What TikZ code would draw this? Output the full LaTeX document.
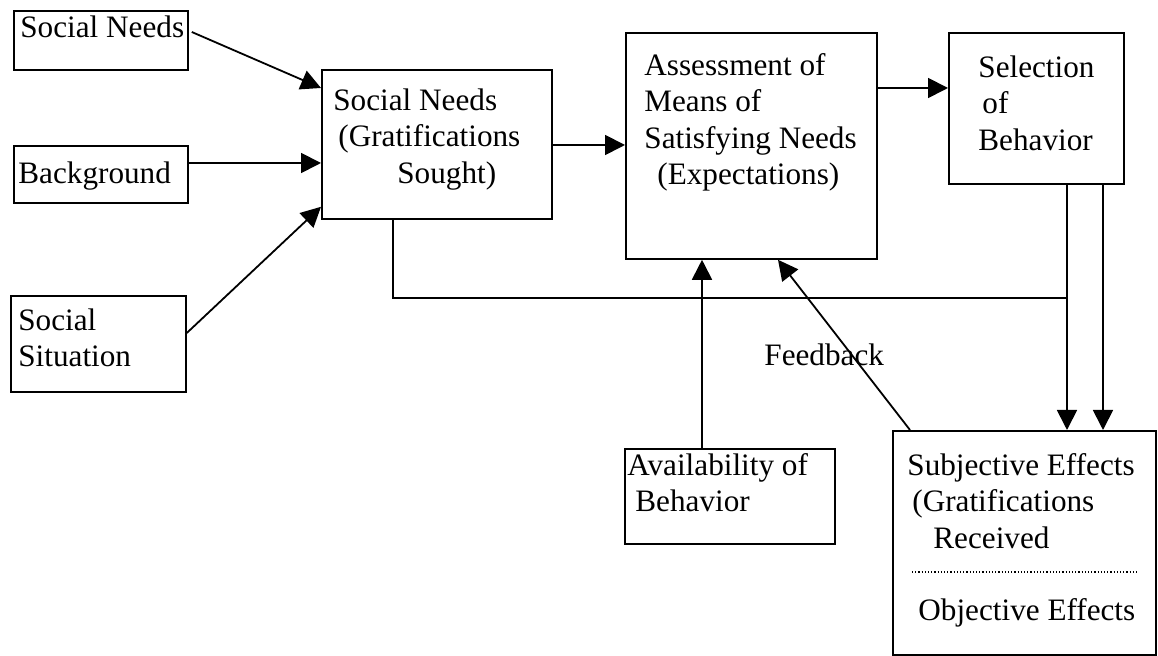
\documentclass[tikz,border=0pt]{standalone}
\usepackage{fontspec}
\setmainfont{Liberation Serif}
\usetikzlibrary{arrows.meta,calc}
\tikzset{
  gs/box/.style={draw, line width=.9pt, inner sep=0pt, anchor=north west},
  gs/text/.style={inner sep=0pt, anchor=north west, align=left,
    font=\fontsize{15.6}{18.25}\selectfont},
  gs/line/.style={line width=.9pt},
  gs/arrow/.style={gs/line, -{Triangle[length=10pt,width=10pt]}}
}

\begin{document}
\begin{tikzpicture}[x=.5pt,y=-.5pt]
  \useasboundingbox (0,0) rectangle (1158,656);
  % boxes
  \node[gs/box, minimum width=87pt, minimum height=29.5pt] (sn) at (13,10) {};
  \node[gs/box, minimum width=87pt, minimum height=28.5pt] (bg) at (13,145) {};
  \node[gs/box, minimum width=87.5pt, minimum height=48pt] (ss) at (10,295) {};
  \node[gs/box, minimum width=115pt, minimum height=74.5pt] (grat) at (321,69) {};
  \node[gs/box, minimum width=125.5pt, minimum height=113pt] (asmt) at (625,32) {};
  \node[gs/box, minimum width=87.5pt, minimum height=75.5pt] (sel) at (948,32) {};
  \node[gs/box, minimum width=105pt, minimum height=47.5pt] (avail) at (624,448) {};
  \node[gs/box, minimum width=131.5pt, minimum height=112pt] (subj) at (892,430) {};
  % texts
  \node[gs/text] (snT) at (20,11.5) {\strut Social Needs};
  \node[gs/text] (bgT) at (18,157.5) {\strut Background};
  \node[gs/text] (ssT) at (18,304.5) {\strut Social\\Situation};
  \node[gs/text] (gratT) at (333,84.5)
    {\strut Social Needs\\\hspace{2.5pt}(Gratifications\\\hspace{32pt}Sought)};
  \node[gs/text] (asmtT) at (644,49.5)
    {\strut Assessment of\\Means of\\Satisfying Needs\\\hspace{6.5pt}(Expectations)};
  \node[gs/text] (selT) at (978,51.5) {\strut Selection\\\hspace{2pt}of\\Behavior};
  \node[gs/text] (availT) at (627,449.5) {\strut Availability of\\\hspace{4pt}Behavior};
  \node[gs/text] (subjT) at (907,449.5)
    {\strut Subjective Effects\\\hspace{2.5pt}(Gratifications\\\hspace{13pt}Received};
  \node[gs/text] (objT) at (918,594.5) {\strut Objective Effects};
  \node[gs/text] (fbT) at (764,339.5) {\strut Feedback};
  \draw[densely dotted, line width=.6pt]
    ($(subj.north west)+(20,142)$) -- ($(subj.north east)+(-18,142)$);
  % inputs
  \draw[gs/arrow] ($(sn.north east)+(3,22)$) -- ($(grat.north west)+(0,19)$);
  \draw[gs/arrow] ($(bg.north east)+(0,18)$) -- ($(grat.north west)+(0,94)$);
  \draw[gs/arrow] ($(ss.north east)+(0,38)$) -- ($(grat.south west)+(0,-13)$);
  \draw[gs/arrow] ($(grat.north east)+(0,76)$) -- ($(asmt.north west)+(0,113)$);
  \draw[gs/arrow] ($(asmt.north east)+(0,56)$) -- ($(sel.north west)+(0,56)$);
  \coordinate (av) at ($(avail.north west)+(78,0)$);
  \draw[gs/arrow] (av) -- (av |- asmt.south);
  \draw[gs/arrow] ($(subj.north west)+(18,0)$) -- ($(asmt.south west)+(153,0)$);
  % selection to effects
  \coordinate (s1) at ($(sel.south west)+(119,0)$);
  \coordinate (s2) at ($(sel.south west)+(155,0)$);
  \draw[gs/arrow] (s1) -- (s1 |- subj.north);
  \draw[gs/arrow] (s2) -- (s2 |- subj.north);
  \draw[gs/line] ($(grat.south west)+(72,0)$) |- ($(s1)+(0,113)$);
\end{tikzpicture}
\end{document}
